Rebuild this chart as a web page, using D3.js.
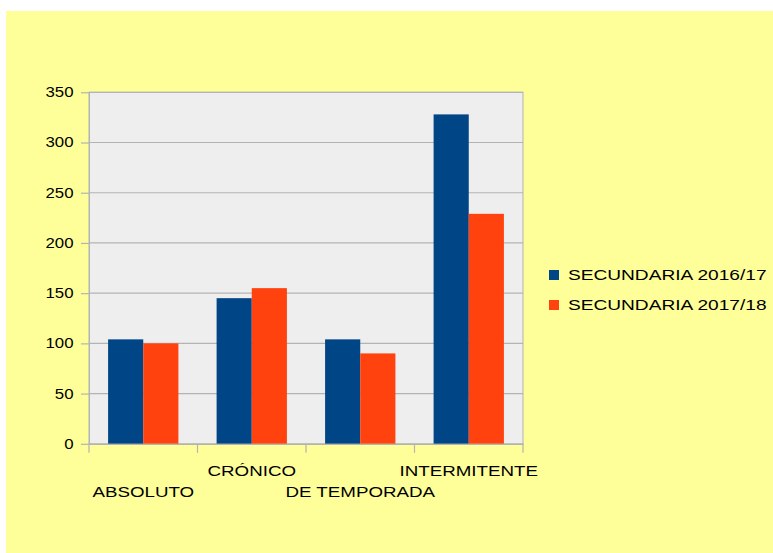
<!DOCTYPE html>
<html>
<head>
<meta charset="utf-8">
<script src="https://cdn.jsdelivr.net/npm/d3@7"></script>
<style>
  html, body { margin: 0; padding: 0; background: #fff; overflow: hidden; }
  svg { display: block; }
  text { font-family: "Liberation Sans", Arial, sans-serif; fill: #000; }
</style>
</head>
<body>
<div id="chart"></div>
<script>
// chart data
const categories = ["ABSOLUTO", "CRÓNICO", "DE TEMPORADA", "INTERMITENTE"];
const seriesNames = ["SECUNDARIA 2016/17", "SECUNDARIA 2017/18"];
const values1617 = [104, 145, 104, 328];
const values1718 = [100, 155, 90, 229];
const yTicks = [0, 50, 100, 150, 200, 250, 300, 350];

const colors = ["#004586", "#ff420e"];
const grid = "#b3b3b3";
const sx = 1.25; // text in the picture is stretched sideways

const width = 773, height = 553;
const plot = { left: 89, right: 523, top: 92.3, bottom: 443.8 };

const svg = d3.select("#chart").append("svg")
    .attr("width", width)
    .attr("height", height);

// yellow page background
svg.append("rect")
    .attr("x", 6).attr("y", 11)
    .attr("width", width - 6).attr("height", height - 11)
    .attr("fill", "#ffff99");

// plot area
svg.append("rect")
    .attr("x", plot.left).attr("y", plot.top)
    .attr("width", plot.right - plot.left).attr("height", plot.bottom - plot.top)
    .attr("fill", "#eeeeee")
    .attr("stroke", grid);

const y = d3.scaleLinear().domain([0, 350]).range([plot.bottom, plot.top]);
const x0 = d3.scaleBand().domain(categories).range([plot.left, plot.right]).padding(0);
const pad = x0.bandwidth() * 0.176;
const x1 = d3.scaleBand().domain(seriesNames).range([pad, x0.bandwidth() - pad]).padding(0);

// horizontal gridlines
svg.append("g")
    .selectAll("line")
    .data(yTicks.filter(d => d > 0))
    .enter()
    .append("line")
    .attr("x1", plot.left).attr("x2", plot.right)
    .attr("y1", d => y(d)).attr("y2", d => y(d))
    .attr("stroke", grid)
    .attr("stroke-width", 1.2);

// bars
const rows = categories.map((c, i) => ({ cat: c, vals: [values1617[i], values1718[i]] }));
const group = svg.append("g")
    .selectAll("g")
    .data(rows)
    .enter()
    .append("g")
    .attr("transform", d => `translate(${x0(d.cat)},0)`);

group.selectAll("rect")
    .data(d => d.vals.map((v, j) => ({ name: seriesNames[j], v: v, j: j })))
    .enter()
    .append("rect")
    .attr("x", d => x1(d.name))
    .attr("y", d => y(d.v))
    .attr("width", x1.bandwidth())
    .attr("height", d => y(0) - y(d.v))
    .attr("fill", d => colors[d.j]);

// y axis
const yAxis = svg.append("g")
    .attr("transform", `translate(${plot.left},0)`)
    .call(d3.axisLeft(y).tickValues(yTicks).tickSize(8).tickSizeOuter(0));
yAxis.select(".domain").attr("stroke", grid);
yAxis.selectAll(".tick line").attr("stroke", grid).attr("stroke-width", 1.2);
yAxis.selectAll(".tick text")
    .attr("x", 0)
    .attr("transform", `translate(-15.5,0) scale(1.2,1)`)
    .style("font-size", "14px")
    .style("font-family", "'Liberation Sans', Arial, sans-serif")
    .attr("fill", "#000");

// x axis, labels staggered in two rows
const xAxis = svg.append("g")
    .attr("transform", `translate(0,${plot.bottom})`)
    .call(d3.axisBottom(x0).tickSize(0).tickSizeOuter(0));
xAxis.select(".domain").attr("stroke", grid).attr("stroke-width", 1.2);
xAxis.selectAll(".tick text")
    .attr("y", 0)
    .attr("dy", 0)
    .attr("transform", (d, i) => `translate(0,${i % 2 === 0 ? 52.7 : 31.7}) scale(${sx},1)`)
    .style("font-size", "15px")
    .style("font-family", "'Liberation Sans', Arial, sans-serif")
    .attr("fill", "#000");

// tick marks at the category boundaries
const bounds = categories.map(c => x0(c)).concat([x0(categories[categories.length - 1]) + x0.bandwidth()]);
svg.append("g")
    .selectAll("line")
    .data(bounds)
    .enter()
    .append("line")
    .attr("x1", d => d).attr("x2", d => d)
    .attr("y1", plot.bottom).attr("y2", plot.bottom + 9)
    .attr("stroke", grid)
    .attr("stroke-width", 1.2);

// legend
const legend = svg.append("g")
    .selectAll("g")
    .data(seriesNames)
    .enter()
    .append("g")
    .attr("transform", (d, i) => `translate(549,${270 + i * 30})`);

legend.append("rect")
    .attr("width", 10).attr("height", 10)
    .attr("fill", (d, i) => colors[i]);

legend.append("text")
    .attr("transform", `translate(19,10) scale(${sx},1)`)
    .style("font-size", "15.3px")
    .text(d => d);
</script>
</body>
</html>
